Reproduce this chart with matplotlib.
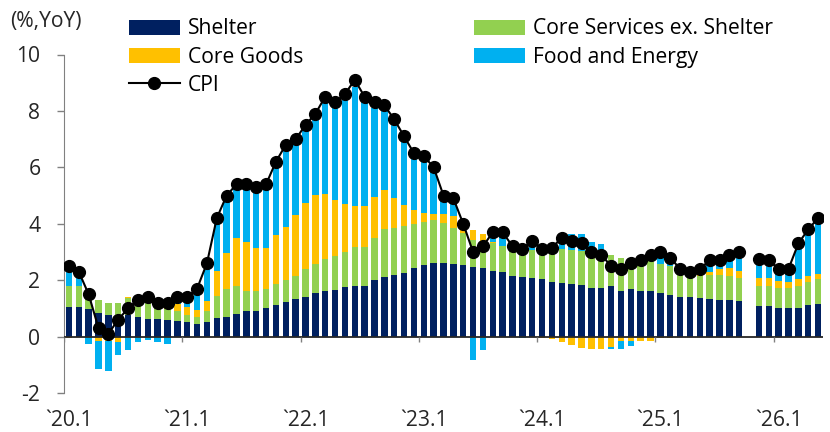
import numpy as np
import matplotlib
matplotlib.use("Agg")
import matplotlib.pyplot as plt

plt.rcParams['font.family'] = ['Open Sans', 'Noto Sans CJK KR', 'DejaVu Sans']
plt.rcParams['axes.unicode_minus'] = False

nan = np.nan

# 2020.1 ~ 2026.5, monthly (Oct 2025 missing)
year_labels = ["`20.1", "`21.1", "`22.1", "`23.1", "`24.1", "`25.1", "`26.1"]

shelter = [1.04, 1.04, 0.98, 0.83, 0.78, 0.75, 0.75, 0.71, 0.63, 0.63, 0.59, 0.57,
           0.50, 0.45, 0.50, 0.66, 0.70, 0.81, 0.89, 0.90, 1.02, 1.12, 1.23, 1.33,
           1.42, 1.54, 1.63, 1.66, 1.75, 1.80, 1.81, 1.99, 2.11, 2.20, 2.27, 2.44,
           2.55, 2.60, 2.60, 2.58, 2.55, 2.46, 2.43, 2.32, 2.29, 2.16, 2.11, 2.07,
           2.05, 1.93, 1.91, 1.88, 1.84, 1.74, 1.72, 1.78, 1.63, 1.67, 1.63, 1.61,
           1.55, 1.49, 1.40, 1.40, 1.36, 1.34, 1.29, 1.29, 1.27, nan, 1.08, 1.08,
           1.03, 1.01, 1.03, 1.12, 1.15]

core_services = [0.76, 0.76, 0.40, 0.47, 0.42, 0.43, 0.61, 0.57, 0.65, 0.45, 0.40, 0.33,
                 0.25, 0.26, 0.42, 0.77, 0.98, 0.97, 0.74, 0.71, 0.66, 0.75, 0.77, 0.81,
                 0.96, 1.03, 1.11, 1.21, 1.25, 1.36, 1.36, 1.50, 1.71, 1.65, 1.65, 1.56,
                 1.51, 1.52, 1.43, 1.27, 1.13, 0.95, 0.96, 1.01, 0.92, 0.90, 0.95, 1.01,
                 0.95, 1.01, 1.19, 1.20, 1.19, 1.04, 0.98, 1.12, 1.16, 1.12, 1.07, 1.07,
                 1.03, 1.00, 0.77, 0.71, 0.78, 0.83, 0.88, 0.85, 0.81, nan, 0.73, 0.72,
                 0.71, 0.72, 0.78, 0.81, 0.89]

core_goods = [-0.05, 0.00, 0.05, -0.14, -0.14, -0.18, 0.05, 0.05, 0.10, 0.20, 0.25, 0.26,
              0.30, 0.24, 0.34, 0.88, 1.29, 1.72, 1.72, 1.54, 1.47, 1.72, 1.88, 2.16,
              2.37, 2.46, 2.33, 1.97, 1.71, 1.48, 1.45, 1.46, 1.37, 1.06, 0.73, 0.48,
              0.32, 0.24, 0.33, 0.42, 0.22, 0.36, 0.26, 0.04, -0.03, -0.03, 0.00, 0.00,
              -0.06, -0.10, -0.20, -0.30, -0.41, -0.44, -0.45, -0.36, -0.14, -0.14, -0.15, -0.14,
              -0.06, -0.04, 0.03, 0.03, 0.03, 0.12, 0.21, 0.30, 0.26, nan, 0.26, 0.27,
              0.23, 0.19, 0.23, 0.21, 0.19]

food_energy = [0.60, 0.45, -0.25, -1.01, -1.07, -0.47, -0.47, -0.18, -0.12, -0.20, -0.26, 0.14,
               0.20, 0.65, 1.20, 1.69, 1.86, 1.75, 1.90, 1.98, 2.10, 2.43, 2.75, 2.60,
               2.63, 2.70, 3.34, 3.25, 3.67, 4.22, 3.70, 3.14, 2.84, 2.64, 2.25, 1.83,
               1.89, 1.50, 0.50, 0.50, 0.10, -0.83, -0.47, 0.30, 0.50, 0.14, -0.05, 0.27,
               0.12, 0.30, 0.50, 0.54, 0.62, 0.58, 0.57, -0.09, -0.31, -0.18, 0.10, 0.25,
               0.35, 0.25, 0.10, 0.05, 0.10, 0.31, 0.30, 0.42, 0.60, nan, 0.60, 0.55,
               0.30, 0.32, 1.10, 1.56, 1.80]

cpi = [2.5, 2.3, 1.5, 0.3, 0.1, 0.6, 1.0, 1.3, 1.4, 1.2, 1.2, 1.4,
       1.4, 1.7, 2.6, 4.2, 5.0, 5.4, 5.4, 5.3, 5.4, 6.2, 6.8, 7.0,
       7.5, 7.9, 8.5, 8.3, 8.6, 9.1, 8.5, 8.3, 8.2, 7.7, 7.1, 6.5,
       6.4, 6.0, 5.0, 4.9, 4.0, 3.0, 3.2, 3.7, 3.7, 3.2, 3.1, 3.4,
       3.1, 3.15, 3.5, 3.4, 3.3, 3.0, 2.9, 2.5, 2.4, 2.6, 2.7, 2.9,
       3.0, 2.8, 2.4, 2.3, 2.4, 2.7, 2.7, 2.9, 3.0, nan, 2.75, 2.7,
       2.4, 2.4, 3.3, 3.8, 4.2]

series = [
    ("Shelter", shelter, "#002060"),
    ("Core Services ex. Shelter", core_services, "#92D050"),
    ("Core Goods", core_goods, "#FFC000"),
    ("Food and Energy", food_energy, "#00B0F0"),
]

FS = 15.2
W, H = 830, 432
fig = plt.figure(figsize=(W / 100, H / 100), dpi=100)
ax = fig.add_axes([64 / W, 39 / H, (823 - 64) / W, (393 - 54.5) / H])

x = np.arange(len(cpi))
pos_bottom = np.zeros(len(x))
neg_bottom = np.zeros(len(x))
handles = {}
for name, vals, color in series:
    v = np.array(vals, dtype=float)
    pos = np.where(v > 0, v, 0.0)
    neg = np.where(v < 0, v, 0.0)
    pos[np.isnan(v)] = nan
    neg[np.isnan(v)] = nan
    b = ax.bar(x, pos, 0.66, bottom=pos_bottom, color=color, zorder=2, label=name)
    ax.bar(x, neg, 0.66, bottom=neg_bottom, color=color, zorder=2)
    pos_bottom = pos_bottom + np.nan_to_num(pos)
    neg_bottom = neg_bottom + np.nan_to_num(neg)
    handles[name] = b

line, = ax.plot(x, cpi, color="black", lw=1.5, marker="o", ms=8.5, zorder=5, label="CPI")

ax.axhline(0, color="#262626", lw=1.3, zorder=3)
ax.vlines(np.arange(-0.5, len(x), 12), -0.18, 0, color="#808080", lw=1, zorder=3)

ax.set_xlim(-0.5, len(x) - 0.5)
ax.set_ylim(-2, 10)
ax.set_yticks(range(-2, 11, 2))
ax.set_xticks(np.arange(0, len(x), 12))
ax.set_xticklabels(year_labels)
ax.tick_params(axis="x", length=0, pad=12, labelsize=FS, colors="#262626")
ax.tick_params(axis="y", length=5, width=1, pad=12, labelsize=FS, color="#808080", labelcolor="#262626")
for s in ["top", "right", "bottom"]:
    ax.spines[s].set_visible(False)
ax.spines["left"].set_color("#808080")

order = ["Shelter", "Core Goods", "CPI", "Core Services ex. Shelter", "Food and Energy"]
hmap = dict(handles)
hmap["CPI"] = line
fig.legend([hmap[k] for k in order], order, loc="upper left",
           bbox_to_anchor=(129 / W, 1 - 18.5 / H), ncol=2, frameon=False,
           fontsize=FS, handlelength=2.4, handletextpad=0.38, columnspacing=8.1,
           labelspacing=0.34, borderaxespad=0, borderpad=0)

fig.text(10 / W, 1 - 21 / H, "(%,YoY)", va="center", ha="left", fontsize=FS, color="#262626")

fig.savefig("out.png", dpi=100)
